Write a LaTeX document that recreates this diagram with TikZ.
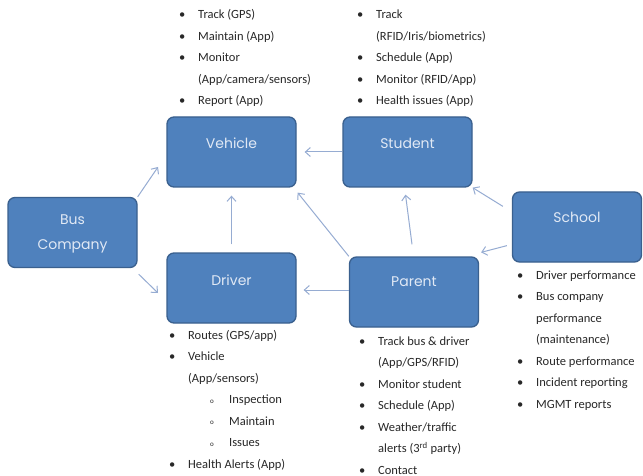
\documentclass[tikz,border=0pt]{standalone}
\usepackage{fontspec}
\setmainfont{Carlito}
\newfontfamily\boxfont{Poppins}
\usetikzlibrary{arrows.meta}
\definecolor{boxfill}{RGB}{79,129,189}
\definecolor{boxline}{RGB}{58,96,142}
\definecolor{boxtxt}{RGB}{225,233,245}
\definecolor{arr}{RGB}{150,172,210}
\definecolor{listtxt}{RGB}{40,40,40}
\newcommand\bitem[1]{\makebox[19pt][l]{\textbullet}#1}
\newcommand\bcont[1]{\hspace*{19pt}#1}
\newcommand\sitem[1]{\hspace*{41pt}\makebox[19pt][l]{\raisebox{0.5pt}{\scriptsize o}}#1}
\tikzset{
  box/.style={rectangle, rounded corners=7pt, fill=boxfill, draw=boxline, line width=1.3pt,
    minimum width=129pt, minimum height=70pt, inner sep=0pt},
  boxlabel/.style={text=boxtxt, font=\boxfont\fontsize{14}{25}\selectfont, align=center, inner sep=0pt},
  blist/.style={anchor=north west, inner sep=0pt, align=left, text=listtxt,
    font=\fontsize{12.5}{21.5}\selectfont},
  conn/.style={draw=arr, line width=1pt, -{Straight Barb[length=5pt,width=9pt]}}
}
\begin{document}
\begin{tikzpicture}[x=1pt,y=-1pt]
\useasboundingbox[fill=white] (0,0) rectangle (643,476);
% boxes
\node[box] (vehicle) at (231.5,152) {};
\node[box] (student) at (407.5,152) {};
\node[box] (bus) at (72.5,232.5) {};
\node[box] (driver) at (231.5,288) {};
\node[box] (parent) at (414,292) {};
\node[box] (school) at (577,227) {};
% box labels
\node[boxlabel] (vehicleT) at (231.5,143) {Vehicle};
\node[boxlabel] (studentT) at (407.5,143) {Student};
\node[boxlabel] (busT) at (72.5,234) {Bus\\Company};
\node[boxlabel] (driverT) at (231.5,280) {Driver};
\node[boxlabel] (parentT) at (414,282) {Parent};
\node[boxlabel] (schoolT) at (577,217) {School};
% connectors
\draw[conn] (bus.north east) -- (158,167);
\draw[conn] ([xshift=1pt,yshift=-6pt]bus.south east) -- (158,293);
\draw[conn] (student.west) -- ([xshift=8pt]student.west -| vehicle.east);
\draw[conn] ([yshift=8pt]driver.north) -- ([yshift=-8pt]vehicle.south);
\draw[conn] (parent.north west) -- ([xshift=1pt,yshift=-5pt]vehicle.south east);
\draw[conn] ([yshift=2pt]parent.west) -- ([xshift=7pt,yshift=2pt]parent.west -| driver.east);
\draw[conn] ([xshift=-2pt,yshift=12pt]parent.north) -- ([xshift=-2pt,yshift=-7pt]student.south);
\draw[conn] ([xshift=-9pt,yshift=-15pt]school.north west) -- (student.south east);
\draw[conn] ([xshift=-5pt,yshift=17pt]school.south west) -- ([xshift=2pt,yshift=4pt]parent.north east);
% lists
\node[blist] (vehicleL) at (179,3.5) {\strut\bitem{Track (GPS)}\\\bitem{Maintain (App)}\\\bitem{Monitor}\\\bcont{(App/camera/sensors)}\\\bitem{Report (App)}};
\node[blist] (studentL) at (357,3.5) {\strut\bitem{Track}\\\bcont{(RFID/Iris/biometrics)}\\\bitem{Schedule (App)}\\\bitem{Monitor (RFID/App)}\\\bitem{Health issues (App)}};
\node[blist] (driverL) at (169,324) {\strut\bitem{Routes (GPS/app)}\\\bitem{Vehicle}\\\bcont{(App/sensors)}\\\sitem{Inspection}\\\sitem{Maintain}\\\sitem{Issues}\\\bitem{Health Alerts (App)}};
\node[blist] (parentL) at (359,330) {\strut\bitem{Track bus \& driver}\\\bcont{(App/GPS/RFID)}\\\bitem{Monitor student}\\\bitem{Schedule (App)}\\\bitem{Weather/traffic}\\\bcont{alerts (3\textsuperscript{rd} party)}\\\bitem{Contact}};
\node[blist] (schoolL) at (517,264) {\strut\bitem{Driver performance}\\\bitem{Bus company}\\\bcont{performance}\\\bcont{(maintenance)}\\\bitem{Route performance}\\\bitem{Incident reporting}\\\bitem{MGMT reports}};
\end{tikzpicture}
\end{document}
